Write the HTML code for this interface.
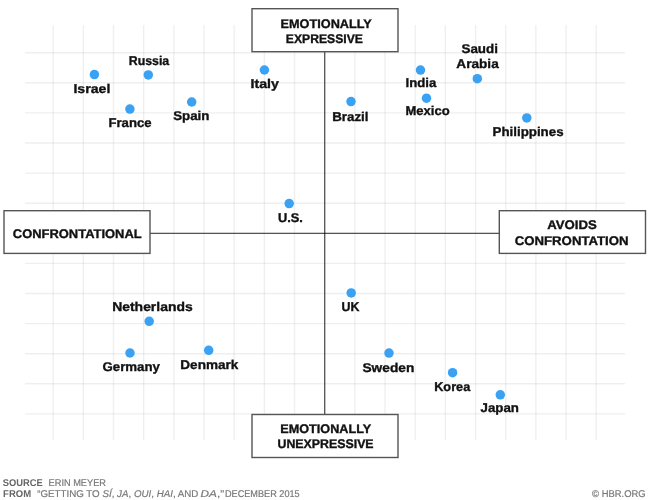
<!DOCTYPE html>
<html><head><meta charset="utf-8"><style>
html,body{margin:0;padding:0;background:#fff;}
body{width:650px;height:500px;overflow:hidden;position:relative;}
svg{position:absolute;left:0;top:0;display:block;will-change:transform;}
text{font-family:"Liberation Sans",sans-serif;text-rendering:geometricPrecision;}
</style></head><body>
<svg width="650" height="500" viewBox="0 0 650 500">
<g stroke="#000" stroke-opacity="0.063" stroke-width="1.4" fill="none">
<line x1="53.17" y1="25" x2="53.17" y2="440"/>
<line x1="83.34" y1="25" x2="83.34" y2="440"/>
<line x1="113.51" y1="25" x2="113.51" y2="440"/>
<line x1="143.68" y1="25" x2="143.68" y2="440"/>
<line x1="173.85" y1="25" x2="173.85" y2="440"/>
<line x1="204.02" y1="25" x2="204.02" y2="440"/>
<line x1="234.19" y1="25" x2="234.19" y2="440"/>
<line x1="264.36" y1="25" x2="264.36" y2="440"/>
<line x1="294.53" y1="25" x2="294.53" y2="440"/>
<line x1="324.70" y1="25" x2="324.70" y2="440"/>
<line x1="354.87" y1="25" x2="354.87" y2="440"/>
<line x1="385.04" y1="25" x2="385.04" y2="440"/>
<line x1="415.21" y1="25" x2="415.21" y2="440"/>
<line x1="445.38" y1="25" x2="445.38" y2="440"/>
<line x1="475.55" y1="25" x2="475.55" y2="440"/>
<line x1="505.72" y1="25" x2="505.72" y2="440"/>
<line x1="535.89" y1="25" x2="535.89" y2="440"/>
<line x1="566.06" y1="25" x2="566.06" y2="440"/>
<line x1="596.23" y1="25" x2="596.23" y2="440"/>
<line x1="25" y1="52.70" x2="625" y2="52.70"/>
<line x1="25" y1="82.80" x2="625" y2="82.80"/>
<line x1="25" y1="112.90" x2="625" y2="112.90"/>
<line x1="25" y1="143.00" x2="625" y2="143.00"/>
<line x1="25" y1="173.10" x2="625" y2="173.10"/>
<line x1="25" y1="203.20" x2="625" y2="203.20"/>
<line x1="25" y1="233.30" x2="625" y2="233.30"/>
<line x1="25" y1="263.40" x2="625" y2="263.40"/>
<line x1="25" y1="293.50" x2="625" y2="293.50"/>
<line x1="25" y1="323.60" x2="625" y2="323.60"/>
<line x1="25" y1="353.70" x2="625" y2="353.70"/>
<line x1="25" y1="383.80" x2="625" y2="383.80"/>
<line x1="25" y1="413.90" x2="625" y2="413.90"/>
</g>
<g stroke="#000" stroke-opacity="0.65" stroke-width="1.3">
<line x1="324.7" y1="52" x2="324.7" y2="414"/>
<line x1="150" y1="233.3" x2="499" y2="233.3"/>
</g>
<g fill="#fff" stroke="#555" stroke-width="1.4">
<rect x="252" y="8.7" width="146" height="43"/>
<rect x="4" y="210.7" width="146" height="42.7"/>
<rect x="499.3" y="210.7" width="146.2" height="42.7"/>
<rect x="252" y="414.5" width="146" height="43"/>
</g>
<g fill="#3aa1f3">
<circle cx="94.4" cy="74.6" r="4.75"/>
<circle cx="148.3" cy="74.9" r="4.75"/>
<circle cx="129.9" cy="109.1" r="4.75"/>
<circle cx="191.7" cy="102" r="4.75"/>
<circle cx="264.4" cy="70" r="4.75"/>
<circle cx="351" cy="101.6" r="4.75"/>
<circle cx="420.5" cy="70.1" r="4.75"/>
<circle cx="426.5" cy="98.2" r="4.75"/>
<circle cx="477.3" cy="78.7" r="4.75"/>
<circle cx="526.8" cy="117.9" r="4.75"/>
<circle cx="289.2" cy="203.6" r="4.75"/>
<circle cx="351.2" cy="292.9" r="4.75"/>
<circle cx="149.2" cy="321.3" r="4.75"/>
<circle cx="130" cy="353" r="4.75"/>
<circle cx="208.7" cy="350.3" r="4.75"/>
<circle cx="389" cy="353.1" r="4.75"/>
<circle cx="452.6" cy="372.7" r="4.75"/>
<circle cx="500.3" cy="394.8" r="4.75"/>
</g>
<text x="73.44" y="92.8" fill="#111" stroke="#111" stroke-width="0.35" font-weight="bold" font-size="12.7" textLength="36.88" lengthAdjust="spacingAndGlyphs">Israel</text>
<text x="128.72" y="64.9" fill="#111" stroke="#111" stroke-width="0.35" font-weight="bold" font-size="12.7" textLength="40.52" lengthAdjust="spacingAndGlyphs">Russia</text>
<text x="108.48" y="126.9" fill="#111" stroke="#111" stroke-width="0.35" font-weight="bold" font-size="12.7" textLength="43.12" lengthAdjust="spacingAndGlyphs">France</text>
<text x="173.20" y="119.8" fill="#111" stroke="#111" stroke-width="0.35" font-weight="bold" font-size="12.7" textLength="36.28" lengthAdjust="spacingAndGlyphs">Spain</text>
<text x="250.48" y="88.4" fill="#111" stroke="#111" stroke-width="0.35" font-weight="bold" font-size="12.7" textLength="28.40" lengthAdjust="spacingAndGlyphs">Italy</text>
<text x="332.20" y="120.8" fill="#111" stroke="#111" stroke-width="0.35" font-weight="bold" font-size="12.7" textLength="36.28" lengthAdjust="spacingAndGlyphs">Brazil</text>
<text x="405.48" y="87.3" fill="#111" stroke="#111" stroke-width="0.35" font-weight="bold" font-size="12.7" textLength="30.76" lengthAdjust="spacingAndGlyphs">India</text>
<text x="405.48" y="114.8" fill="#111" stroke="#111" stroke-width="0.35" font-weight="bold" font-size="12.7" textLength="44.20" lengthAdjust="spacingAndGlyphs">Mexico</text>
<text x="461.48" y="52.8" fill="#111" stroke="#111" stroke-width="0.35" font-weight="bold" font-size="12.7" textLength="36.52" lengthAdjust="spacingAndGlyphs">Saudi</text>
<text x="456.38" y="68.0" fill="#111" stroke="#111" stroke-width="0.35" font-weight="bold" font-size="12.7" textLength="42.36" lengthAdjust="spacingAndGlyphs">Arabia</text>
<text x="492.58" y="136.1" fill="#111" stroke="#111" stroke-width="0.35" font-weight="bold" font-size="12.7" textLength="70.96" lengthAdjust="spacingAndGlyphs">Philippines</text>
<text x="277.96" y="221.8" fill="#111" stroke="#111" stroke-width="0.35" font-weight="bold" font-size="12.7" textLength="25.00" lengthAdjust="spacingAndGlyphs">U.S.</text>
<text x="341.58" y="310.9" fill="#111" stroke="#111" stroke-width="0.35" font-weight="bold" font-size="12.7" textLength="17.96" lengthAdjust="spacingAndGlyphs">UK</text>
<text x="112.20" y="310.8" fill="#111" stroke="#111" stroke-width="0.35" font-weight="bold" font-size="12.7" textLength="80.48" lengthAdjust="spacingAndGlyphs">Netherlands</text>
<text x="102.48" y="370.9" fill="#111" stroke="#111" stroke-width="0.35" font-weight="bold" font-size="12.7" textLength="57.44" lengthAdjust="spacingAndGlyphs">Germany</text>
<text x="180.34" y="369.0" fill="#111" stroke="#111" stroke-width="0.35" font-weight="bold" font-size="12.7" textLength="57.96" lengthAdjust="spacingAndGlyphs">Denmark</text>
<text x="362.44" y="371.7" fill="#111" stroke="#111" stroke-width="0.35" font-weight="bold" font-size="12.7" textLength="51.88" lengthAdjust="spacingAndGlyphs">Sweden</text>
<text x="434.20" y="391.2" fill="#111" stroke="#111" stroke-width="0.35" font-weight="bold" font-size="12.7" textLength="36.04" lengthAdjust="spacingAndGlyphs">Korea</text>
<text x="480.62" y="412.2" fill="#111" stroke="#111" stroke-width="0.35" font-weight="bold" font-size="12.7" textLength="38.36" lengthAdjust="spacingAndGlyphs">Japan</text>
<text x="280.58" y="27.8" fill="#111" stroke="#111" stroke-width="0.35" font-weight="bold" font-size="12.5" textLength="91.24" lengthAdjust="spacingAndGlyphs">EMOTIONALLY</text>
<text x="285.86" y="43.4" fill="#111" stroke="#111" stroke-width="0.35" font-weight="bold" font-size="12.5" textLength="77.04" lengthAdjust="spacingAndGlyphs">EXPRESSIVE</text>
<text x="12.86" y="237.8" fill="#111" stroke="#111" stroke-width="0.35" font-weight="bold" font-size="12.5" textLength="128.76" lengthAdjust="spacingAndGlyphs">CONFRONTATIONAL</text>
<text x="547.24" y="229.0" fill="#111" stroke="#111" stroke-width="0.35" font-weight="bold" font-size="12.5" textLength="49.52" lengthAdjust="spacingAndGlyphs">AVOIDS</text>
<text x="514.72" y="244.8" fill="#111" stroke="#111" stroke-width="0.35" font-weight="bold" font-size="12.5" textLength="113.84" lengthAdjust="spacingAndGlyphs">CONFRONTATION</text>
<text x="280.34" y="433.2" fill="#111" stroke="#111" stroke-width="0.35" font-weight="bold" font-size="12.5" textLength="90.80" lengthAdjust="spacingAndGlyphs">EMOTIONALLY</text>
<text x="277.48" y="448.4" fill="#111" stroke="#111" stroke-width="0.35" font-weight="bold" font-size="12.5" textLength="96.16" lengthAdjust="spacingAndGlyphs">UNEXPRESSIVE</text>
<text x="2.72" y="485.8" fill="#666" font-weight="bold" font-size="9.8" textLength="40.04" lengthAdjust="spacingAndGlyphs">SOURCE</text>
<text x="48.58" y="485.8" fill="#787878" stroke="#787878" stroke-width="0.2" font-size="9.8" textLength="57.40" lengthAdjust="spacingAndGlyphs">ERIN MEYER</text>
<text x="3.10" y="496.6" fill="#666" font-weight="bold" font-size="9.8" textLength="28.00" lengthAdjust="spacingAndGlyphs">FROM</text>
<text x="37.20" y="496.6" fill="#787878" stroke="#787878" stroke-width="0.2" font-size="9.8" textLength="161.20" lengthAdjust="spacingAndGlyphs">“GETTING TO <tspan font-style="italic">SÍ</tspan>, <tspan font-style="italic">JA</tspan>, <tspan font-style="italic">OUI</tspan>, <tspan font-style="italic">HAI</tspan>, AND</text>
<text x="200.56" y="496.6" fill="#787878" stroke="#787878" stroke-width="0.2" font-size="9.8" textLength="23.56" lengthAdjust="spacingAndGlyphs"><tspan font-style="italic">DA</tspan>,”</text>
<text x="224.98" y="496.6" fill="#787878" stroke="#787878" stroke-width="0.2" font-size="9.8" textLength="74.68" lengthAdjust="spacingAndGlyphs">DECEMBER 2015</text>
<text x="592.10" y="496.9" fill="#787878" stroke="#787878" stroke-width="0.2" font-size="9.8" textLength="53.52" lengthAdjust="spacingAndGlyphs">© HBR.ORG</text>
</svg>
</body></html>
